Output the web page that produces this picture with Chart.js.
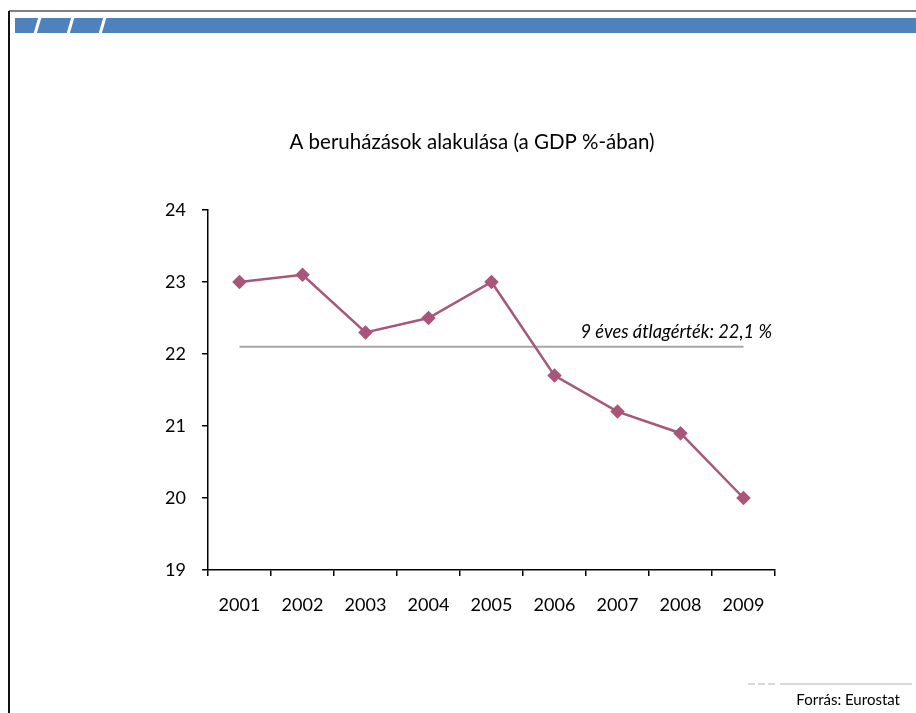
<!DOCTYPE html>
<html>
<head>
<meta charset="utf-8">
<script src="https://cdn.jsdelivr.net/npm/chart.js@4/dist/chart.umd.min.js"></script>
<style>
  html, body { margin: 0; padding: 0; background: #fff; }
  #wrap { width: 916px; height: 713px; position: relative; }
</style>
</head>
<body>
<div id="wrap"><canvas id="chart" width="916" height="713"></canvas></div>
<script>
const years = ["2001", "2002", "2003", "2004", "2005", "2006", "2007", "2008", "2009"];
const investment = [23.0, 23.1, 22.3, 22.5, 23.0, 21.7, 21.2, 20.9, 20.0];
const average = 22.1;
const avgLabel = "9 éves átlagérték: 22,1 %";
const title = "A beruházások alakulása (a GDP %-ában)";
const source = "Forrás: Eurostat";
const FONT = "Lato, 'Open Sans', sans-serif";

// frame, header bar, title and source note
const decor = {
  id: "decor",
  beforeDraw(chart) {
    const c = chart.ctx;
    c.save();
    c.fillStyle = "#fff";
    c.fillRect(0, 0, 916, 713);
    c.strokeStyle = "#555";
    c.lineWidth = 1.5;
    c.beginPath();
    c.moveTo(9, 11);
    c.lineTo(916, 11);
    c.stroke();
    c.strokeStyle = "#111";
    c.lineWidth = 2;
    c.beginPath();
    c.moveTo(9, 713);
    c.lineTo(9, 11);
    c.stroke();
    c.fillStyle = "#4f81bd";
    c.fillRect(15, 18, 901, 15);
    c.strokeStyle = "#fff";
    c.lineWidth = 3;
    [37, 70, 102].forEach(x => {
      c.beginPath();
      c.moveTo(x + 3, 17);
      c.lineTo(x - 2, 34);
      c.stroke();
    });
    c.fillStyle = "#000";
    c.font = "20.5px " + FONT;
    c.textAlign = "center";
    c.textBaseline = "middle";
    c.fillText(title, 472, 142);
    c.strokeStyle = "#d9d9d9";
    c.lineWidth = 2;
    c.setLineDash([7, 3]);
    c.beginPath();
    c.moveTo(748, 684);
    c.lineTo(778, 684);
    c.stroke();
    c.setLineDash([]);
    c.beginPath();
    c.moveTo(780, 684);
    c.lineTo(912, 684);
    c.stroke();
    c.font = "15px " + FONT;
    c.textAlign = "right";
    c.fillText(source, 900, 700);
    c.restore();
  },
  afterDatasetsDraw(chart) {
    const c = chart.ctx;
    const y = chart.scales.y.getPixelForValue(average);
    c.save();
    c.fillStyle = "#000";
    c.font = "italic 18.3px " + FONT;
    c.textAlign = "right";
    c.textBaseline = "alphabetic";
    c.fillText(avgLabel, 772, y - 9);
    c.restore();
  }
};

new Chart(document.getElementById("chart"), {
  type: "line",
  data: {
    labels: years,
    datasets: [
      {
        label: "Átlag",
        data: years.map(() => average),
        borderColor: "#a6a6a6",
        borderWidth: 2,
        pointRadius: 0,
        order: 2
      },
      {
        label: "Beruházás",
        data: investment,
        borderColor: "#a8567a",
        backgroundColor: "#a8567a",
        borderWidth: 2.5,
        pointStyle: "rectRot",
        pointRadius: 5.5,
        pointHoverRadius: 5.5,
        order: 1
      }
    ]
  },
  plugins: [decor],
  options: {
    responsive: false,
    animation: false,
    layout: { padding: { top: 210, right: 141, bottom: 0, left: 0 } },
    plugins: { legend: { display: false }, tooltip: { enabled: false } },
    scales: {
      x: {
        offset: true,
        afterFit: s => { s.height = 143; },
        grid: { offset: true, drawOnChartArea: false, color: "#000", tickLength: 6, lineWidth: 1.5 },
        border: { color: "#000", width: 1.5 },
        ticks: { color: "#000", font: { family: FONT, size: 18 }, padding: 18, maxRotation: 0 }
      },
      y: {
        min: 19,
        max: 24,
        afterFit: s => { s.width = 208; },
        grid: { drawOnChartArea: false, color: "#000", tickLength: 6, lineWidth: 1.5 },
        border: { color: "#000", width: 1.5 },
        ticks: { stepSize: 1, color: "#000", font: { family: FONT, size: 18 }, padding: 16 }
      }
    }
  }
});
</script>
</body>
</html>
